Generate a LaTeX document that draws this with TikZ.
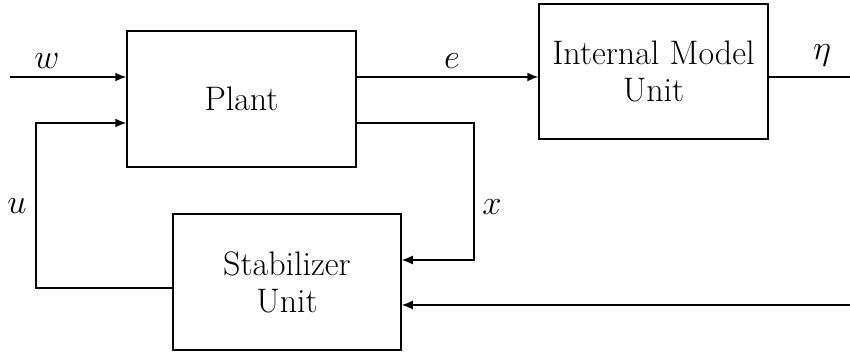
\documentclass[tikz,border=0pt]{standalone}
\usetikzlibrary{arrows.meta}
\begin{document}
\begin{tikzpicture}[x=0.5pt,y=-0.5pt,
  blockbox/.style={draw,line width=0.75pt,align=center,inner sep=0pt,font=\fontsize{17}{18.5}\selectfont},
  conn/.style={line width=0.75pt},
  arr/.style={conn,-{Latex[length=5.5pt,width=4.5pt]}},
  lbl/.style={font=\fontsize{16}{18}\selectfont,inner sep=0pt}]
\useasboundingbox (0,0) rectangle (850,356);
\node[blockbox,minimum width=114.5pt,minimum height=68pt] (plant) at (241.5,99) {Plant};
\node[blockbox,minimum width=114.5pt,minimum height=67.5pt,text depth=0pt] (imu) at (653.5,71.5) {Internal Model\\Unit};
\node[blockbox,minimum width=114pt,minimum height=68pt] (stab) at (287,282) {Stabilizer\\Unit};
\coordinate (win) at (10,77);
\coordinate (etaout) at (850,77);
\coordinate (bin) at (850,305);
\coordinate (ucorner) at (36,288);
\coordinate (xcorner) at (474,123);
\draw[arr] (win) -- (plant.west |- win);
\draw[arr] (plant.east |- win) -- (imu.west |- win);
\draw[conn] (imu.east |- etaout) -- (etaout);
\draw[arr] (stab.west |- ucorner) -- (ucorner) |- (plant.west |- xcorner);
\draw[arr] (plant.east |- xcorner) -- (xcorner) |- (stab.east |- 0,260);
\draw[arr] (bin) -- (stab.east |- bin);
\node[lbl] (wl) at (47,61) {$w$};
\node[lbl] (el) at (452,61) {$e$};
\node[lbl] (etal) at (822,55) {$\eta$};
\node[lbl] (ul) at (17,206) {$u$};
\node[lbl] (xl) at (492,207) {$x$};
\end{tikzpicture}
\end{document}
